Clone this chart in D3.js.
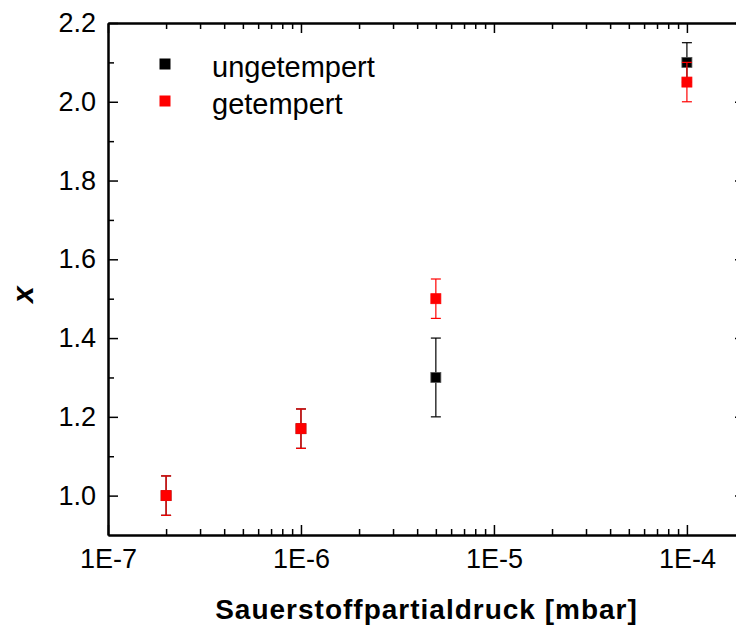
<!DOCTYPE html>
<html>
<head>
<meta charset="utf-8">
<script src="https://cdn.jsdelivr.net/npm/d3@7"></script>
<style>
  body { margin: 0; background: #fff; }
  text { font-family: "Liberation Sans", Arial, sans-serif; }
</style>
</head>
<body>
<div id="chart"></div>
<script>
// Oxygen partial pressure vs. x, annealed / not annealed
const pressure = [2e-7, 1e-6, 5e-6, 1e-4];
const xUngetempert = [1.0, 1.17, 1.3, 2.1];
const errUngetempert = [0.05, 0.05, 0.1, 0.05];
const xGetempert = [1.0, 1.17, 1.5, 2.05];
const errGetempert = [0.05, 0.05, 0.05, 0.05];
const seriesNames = ['ungetempert', 'getempert'];
const seriesColors = ['#000000', '#ff0000'];
const xTickLabels = ['1E-7', '1E-6', '1E-5', '1E-4'];
const yTickValues = [1.0, 1.2, 1.4, 1.6, 1.8, 2.0, 2.2];

const width = 736, height = 630;
const margin = { left: 108, top: 23, right: -9, bottom: 95 };
const innerW = width - margin.left - margin.right;
const innerH = height - margin.top - margin.bottom;

const svg = d3.select('#chart').append('svg')
    .attr('width', width)
    .attr('height', height);

const g = svg.append('g')
    .attr('transform', `translate(${margin.left},${margin.top})`);

const x = d3.scaleLog().domain([1e-7, 2e-4]).range([0, innerW]);
const y = d3.scaleLinear().domain([0.9, 2.2]).range([innerH, 0]);

// log ticks: majors at decades, minors at 2..9
const majorX = [1e-7, 1e-6, 1e-5, 1e-4];
const minorX = [];
majorX.forEach(d => {
    for (let k = 2; k <= 9; k++) {
        const v = d * k;
        if (v <= 2e-4) minorX.push(v);
    }
});
const minorY = d3.range(1.1, 2.2, 0.2).map(v => +v.toFixed(1));

function styleAxis(sel) {
    sel.select('.domain').attr('stroke', '#000').attr('stroke-width', 2);
    sel.selectAll('.tick line').attr('stroke', '#000').attr('stroke-width', 1.5);
    sel.selectAll('text').attr('font-size', 27).attr('fill', '#000')
        .attr('font-family', '"Liberation Sans", Arial, sans-serif');
}

// bottom axis (ticks point inward)
const bottomMajor = g.append('g')
    .attr('transform', `translate(0,${innerH})`)
    .call(d3.axisBottom(x).tickValues(majorX)
        .tickFormat((d, i) => xTickLabels[i])
        .tickSizeInner(-10).tickSizeOuter(0).tickPadding(14));
styleAxis(bottomMajor);
const bottomMinor = g.append('g')
    .attr('transform', `translate(0,${innerH})`)
    .call(d3.axisBottom(x).tickValues(minorX).tickFormat('')
        .tickSizeInner(-6).tickSizeOuter(0));
styleAxis(bottomMinor);

// top axis mirror
const topMajor = g.append('g')
    .call(d3.axisTop(x).tickValues(majorX).tickFormat('')
        .tickSizeInner(-10).tickSizeOuter(0));
styleAxis(topMajor);
const topMinor = g.append('g')
    .call(d3.axisTop(x).tickValues(minorX).tickFormat('')
        .tickSizeInner(-6).tickSizeOuter(0));
styleAxis(topMinor);

// left axis
const leftMajor = g.append('g')
    .call(d3.axisLeft(y).tickValues(yTickValues)
        .tickFormat(d3.format('.1f'))
        .tickSizeInner(-10).tickSizeOuter(0).tickPadding(12));
styleAxis(leftMajor);
const leftMinor = g.append('g')
    .call(d3.axisLeft(y).tickValues(minorY).tickFormat('')
        .tickSizeInner(-6).tickSizeOuter(0));
styleAxis(leftMinor);

// right axis mirror
const rightMajor = g.append('g')
    .attr('transform', `translate(${innerW},0)`)
    .call(d3.axisRight(y).tickValues(yTickValues).tickFormat('')
        .tickSizeInner(-10).tickSizeOuter(0));
styleAxis(rightMajor);
const rightMinor = g.append('g')
    .attr('transform', `translate(${innerW},0)`)
    .call(d3.axisRight(y).tickValues(minorY).tickFormat('')
        .tickSizeInner(-6).tickSizeOuter(0));
styleAxis(rightMinor);

// data series with error bars
const series = [
    { name: seriesNames[0], color: seriesColors[0], vals: xUngetempert, errs: errUngetempert },
    { name: seriesNames[1], color: seriesColors[1], vals: xGetempert, errs: errGetempert }
];
const cap = 5, sq = 10;

series.forEach(s => {
    const pts = pressure.map((p, i) => ({ p, v: s.vals[i], e: s.errs[i] }));
    const sg = g.append('g');
    const eb = sg.selectAll('.eb').data(pts).enter().append('g')
        .attr('stroke', s.color).attr('stroke-width', 1.2);
    eb.append('line')
        .attr('x1', d => x(d.p)).attr('x2', d => x(d.p))
        .attr('y1', d => y(d.v - d.e)).attr('y2', d => y(d.v + d.e));
    eb.append('line')
        .attr('x1', d => x(d.p) - cap).attr('x2', d => x(d.p) + cap)
        .attr('y1', d => y(d.v + d.e)).attr('y2', d => y(d.v + d.e));
    eb.append('line')
        .attr('x1', d => x(d.p) - cap).attr('x2', d => x(d.p) + cap)
        .attr('y1', d => y(d.v - d.e)).attr('y2', d => y(d.v - d.e));
    sg.selectAll('rect').data(pts).enter().append('rect')
        .attr('x', d => x(d.p) - sq / 2)
        .attr('y', d => y(d.v) - sq / 2)
        .attr('width', sq).attr('height', sq)
        .attr('fill', s.color)
        .attr('stroke', s.color === '#000000' ? '#555' : s.color)
        .attr('stroke-width', 0.8);
});

// legend
const legend = g.append('g').attr('transform', 'translate(57,41)');
series.forEach((s, i) => {
    legend.append('rect')
        .attr('x', -5.5).attr('y', i * 37 - 5.5)
        .attr('width', 11).attr('height', 11)
        .attr('fill', s.color);
    legend.append('text')
        .attr('x', 47).attr('y', i * 37 + 13)
        .attr('font-size', 29)
        .text(s.name);
});

// axis titles
svg.append('text')
    .attr('x', margin.left + innerW / 2)
    .attr('y', 619)
    .attr('text-anchor', 'middle')
    .attr('font-size', 28)
    .attr('font-weight', 'bold')
    .attr('letter-spacing', 1)
    .text('Sauerstoffpartialdruck [mbar]');

svg.append('text')
    .attr('transform', `translate(33,${margin.top + y(1.51)}) rotate(-90)`)
    .attr('text-anchor', 'middle')
    .attr('font-size', 30)
    .attr('font-weight', 'bold')
    .attr('font-style', 'italic')
    .text('x');
</script>
</body>
</html>
